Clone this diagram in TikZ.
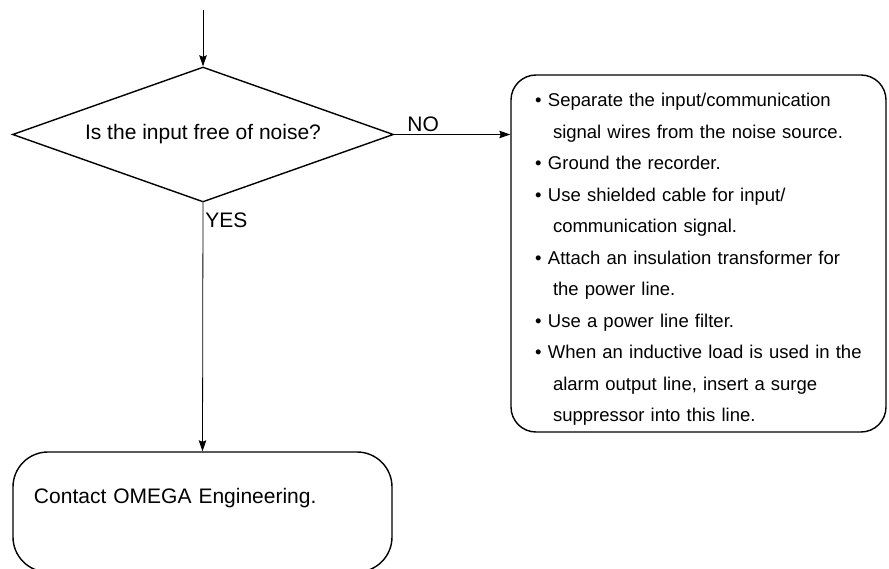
\documentclass[tikz,border=0pt]{standalone}
\usepackage{fontspec}
\setmainfont{Liberation Sans}
\usetikzlibrary{arrows.meta,positioning,shapes.geometric}
\tikzset{
  decnode/.style={draw, diamond, aspect=2.8, minimum width=381pt, minimum height=135pt,
                  line width=1.4pt, inner sep=2pt, font=\fontsize{21}{25}\selectfont},
  tipbox/.style={draw, rectangle, rounded corners=25pt, line width=1.4pt, align=left,
                 text width=327pt, text height=25pt,
                 minimum width=375pt, minimum height=357pt, font=\fontsize{18.5}{31.5}\selectfont},
  endbox/.style={draw, rectangle, rounded corners=35pt, line width=1.4pt, align=left,
                 text width=337pt, text depth=33pt, minimum width=379pt, minimum height=120pt,
                 font=\fontsize{21}{25}\selectfont},
  flowarr/.style={->, line width=0.8pt},
  lbl/.style={font=\fontsize{21}{25}\selectfont, inner sep=2pt}
}
\newcommand{\bul}{\textbullet\hspace{6.5pt}}
\newcommand{\cont}{\hspace*{18pt}}

\begin{document}
\begin{tikzpicture}[x=1pt, y=-1pt, >={Stealth[length=11pt,width=7.5pt,inset=1.5pt]}]
\useasboundingbox (0,0) rectangle (889,569);
\coordinate (start) at (203,10);
\node[decnode] (q) at (203,134.5) {Is the input free of noise?};
\node[tipbox] (fix) at (698.5,253.5) {\bul Separate the input/communication\\
  \cont signal wires from the noise source.\\
  \bul Ground the recorder.\\
  \bul Use shielded cable for input/\\
  \cont communication signal.\\
  \bul Attach an insulation transformer for\\
  \cont the power line.\\
  \bul Use a power line filter.\\
  \bul When an inductive load is used in the\\
  \cont alarm output line, insert a surge\\
  \cont suppressor into this line.};
\node[endbox] (contact) at (202.5,512) {Contact OMEGA Engineering.};
\draw[flowarr] (start) -- (q.north);
\draw[flowarr] (q.east) -- node[lbl, above, pos=0.25] {NO} (q.east -| fix.west);
\draw[flowarr] (q.south) -- node[lbl, right, pos=0.07] {YES} (contact.north);
\end{tikzpicture}
\end{document}
